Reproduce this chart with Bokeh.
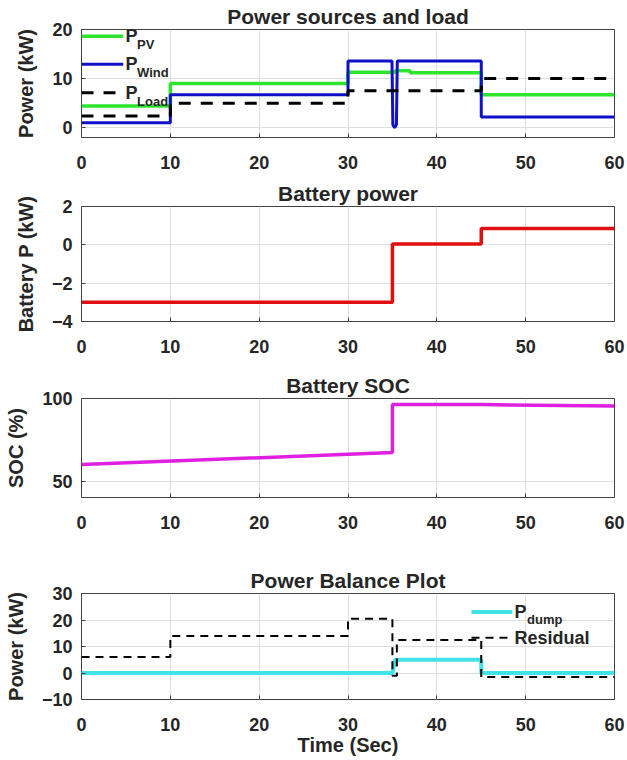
from bokeh.plotting import figure
from bokeh.layouts import column
from bokeh.models import Range1d, Label, Arrow
from bokeh.embed import file_html
from bokeh.resources import INLINE

# ---------------- data ----------------
x_ticks = [0, 10, 20, 30, 40, 50, 60]

# Power sources and load
t_pv = [0, 10, 10, 30, 30, 35.3, 35.3, 37, 37, 45, 45, 60]
p_pv = [4.4, 4.4, 9.0, 9.0, 11.3, 11.3, 11.6, 11.6, 11.2, 11.2, 6.7, 6.7]
t_wind = [0, 10, 10, 30, 30, 34.95, 35.05, 35.25, 35.45, 35.55, 45, 45, 60]
p_wind = [1.0, 1.0, 6.7, 6.7, 13.6, 13.6, 0.6, 0.0, 0.6, 13.6, 13.6, 2.2, 2.2]
t_load = [0, 10, 10, 30, 30, 45, 45, 60]
p_load = [2.4, 2.4, 5.0, 5.0, 7.5, 7.5, 10.0, 10.0]
y1_ticks = [0, 10, 20]

# Battery power
t_bat = [0, 35, 35, 45, 45, 60]
p_bat = [-3.0, -3.0, 0.05, 0.05, 0.85, 0.85]
y2_ticks = [-4, -2, 0, 2]

# Battery SOC
t_soc = [0, 35, 35, 45, 60]
soc = [60.0, 67.2, 96.3, 96.3, 95.4]
y3_ticks = [50, 100]

# Power balance
t_dump = [0, 35, 35.3, 45, 45, 60]
p_dump = [0, 0, 5.0, 5.0, 0, 0]
t_res = [0, 10, 10, 30, 30, 35, 35, 35.5, 35.5, 45, 45, 60]
p_res = [6.0, 6.0, 14.0, 14.0, 20.5, 20.5, -1.0, -1.0, 12.5, 12.5, -1.5, -1.5]
y4_ticks = [-10, 0, 10, 20, 30]

# ---------------- style ----------------
FONT = "Liberation Sans"
TXT = "#262626"
TICK = "#404040"
GREEN = "#2ee52e"
BLUE = "#1010c8"
RED = "#e01010"
MAGENTA = "#e020e0"
CYAN = "#3fe3e8"


def style_axis(ax):
    ax.major_label_text_font = FONT
    ax.major_label_text_font_size = "18px"
    ax.major_label_text_font_style = "bold"
    ax.major_label_text_color = TXT
    ax.axis_line_color = None
    ax.major_tick_in = 4
    ax.major_tick_out = 0
    ax.major_tick_line_color = TICK
    ax.minor_tick_line_color = None
    ax.axis_label_text_font = FONT
    ax.axis_label_text_font_size = "20px"
    ax.axis_label_text_font_style = "bold"
    ax.axis_label_text_color = TXT


def make_fig(title, height, yr, yticks, ylabel, top, bottom, xlabel=None):
    p = figure(width=627, height=height, output_backend="svg", toolbar_location=None,
               x_range=Range1d(0, 60), y_range=Range1d(*yr),
               min_border_left=81, min_border_right=13,
               min_border_top=top, min_border_bottom=bottom)
    p.title.text = title
    p.title.align = "center"
    p.title.text_font = FONT
    p.title.text_font_size = "21px"
    p.title.text_font_style = "bold"
    p.title.text_color = TXT
    p.title.standoff = 3
    p.xaxis.ticker = x_ticks
    p.yaxis.ticker = yticks
    style_axis(p.xaxis[0])
    style_axis(p.yaxis[0])
    p.xaxis.major_label_standoff = 18
    p.yaxis.major_label_standoff = 9
    p.yaxis.axis_label = ylabel
    p.yaxis.axis_label_standoff = 12
    if xlabel:
        p.xaxis.axis_label = xlabel
        p.xaxis.axis_label_standoff = 0
    p.xgrid.grid_line_color = "#dedede"
    p.ygrid.grid_line_color = "#dedede"
    p.outline_line_color = TICK
    p.outline_line_width = 1
    return p


def legend_entry(p, x0, x1, y, color, width, dash, main, sub, sub_dy, sub_dx):
    p.add_layout(Arrow(end=None, x_start=x0, y_start=y, x_end=x1, y_end=y,
                       line_color=color, line_width=width, line_dash=dash))
    p.add_layout(Label(x=x1 + 0.25, y=y, text=main, text_font=FONT, text_font_size="18px",
                       text_font_style="bold", text_color=TXT, text_baseline="middle"))
    if sub:
        p.add_layout(Label(x=x1 + 0.25 + sub_dx, y=y - sub_dy, text=sub, text_font=FONT,
                           text_font_size="13px", text_font_style="bold", text_color=TXT,
                           text_baseline="middle"))


# 1) Power sources and load
p1 = make_fig("Power sources and load", 176, (-2, 20), y1_ticks, "Power (kW)", 29, 39)
p1.line(t_pv, p_pv, color=GREEN, line_width=3.5)
p1.line(t_wind, p_wind, color=BLUE, line_width=3)
p1.line(t_load, p_load, color="black", line_width=3, line_dash="12 10")
legend_entry(p1, 0, 4.7, 18.6, GREEN, 3.5, "solid", "P", "PV", 1.7, 1.3)
legend_entry(p1, 0, 4.7, 12.9, BLUE, 3, "solid", "P", "Wind", 1.7, 1.3)
legend_entry(p1, 0, 4.7, 7.1, "black", 3, "12 10", "P", "Load", 1.7, 1.3)

# 2) Battery power
p2 = make_fig("Battery power", 192, (-4, 2), y2_ticks, "Battery P (kW)", 30, 47)
p2.line(t_bat, p_bat, color=RED, line_width=3.5)

# 3) Battery SOC
p3 = make_fig("Battery SOC", 195, (40, 100), y3_ticks, "SOC (%)", 30, 66)
p3.line(t_soc, soc, color=MAGENTA, line_width=3.5)

# 4) Power balance
p4 = make_fig("Power Balance Plot", 196, (-10, 30), y4_ticks, "Power (kW)", 30, 60, "Time (Sec)")
p4.line(t_dump, p_dump, color=CYAN, line_width=4)
p4.line(t_res, p_res, color="black", line_width=2, line_dash="8 6")
legend_entry(p4, 43.9, 48.5, 23.0, CYAN, 4, "solid", "P", "dump", 2.8, 1.4)
legend_entry(p4, 43.9, 48.5, 13.3, "black", 2, "8 6", "Residual", None, 0, 0)

layout = column(p1, p2, p3, p4)
open("out.html", "w").write(file_html(layout, INLINE))
